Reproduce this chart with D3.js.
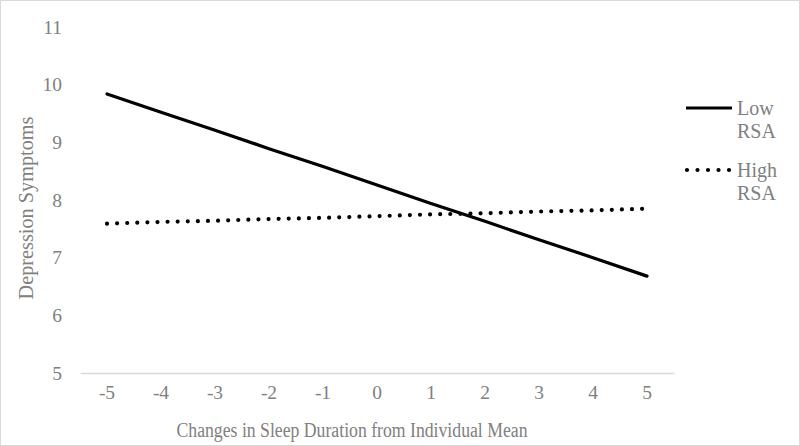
<!DOCTYPE html>
<html><head><meta charset="utf-8">
<script src="https://cdn.jsdelivr.net/npm/d3@7"></script>
<style>body{margin:0;background:#fff}svg{display:block}</style>
</head><body><svg id="c" width="800" height="446"></svg>
<script>
const categories = ["-5","-4","-3","-2","-1","0","1","2","3","4","5"];
const lowRSA  = [9.84, 9.52, 9.21, 8.89, 8.58, 8.26, 7.94, 7.63, 7.31, 7.00, 6.68];
const highRSA = [7.59, 7.62, 7.64, 7.67, 7.69, 7.72, 7.75, 7.77, 7.80, 7.82, 7.85];
const yTicks = [5, 6, 7, 8, 9, 10, 11];
const seriesNames = [["Low", "RSA"], ["High", "RSA"]];

const svg = d3.select("#c");
const font = "'Liberation Serif', serif";
const grey = "#808080";
svg.append("rect").attr("x",0.5).attr("y",0.5).attr("width",799).attr("height",445)
  .attr("fill","#fff").attr("stroke","#d9d9d9");

const x = d3.scaleBand().domain(categories).range([80, 674]);
const y = d3.scaleLinear().domain([5, 11]).range([373, 27]);

// y tick labels
const yAxis = svg.append("g").attr("transform","translate(62,0)")
  .call(d3.axisLeft(y).tickValues(yTicks).tickSize(0).tickPadding(0).tickFormat(d3.format("d")));
yAxis.select(".domain").remove();
yAxis.selectAll("text").attr("font-family",font).attr("font-size",19.5).attr("fill",grey);

// x axis
const xAxis = svg.append("g").attr("transform","translate(0,373)")
  .call(d3.axisBottom(x).tickSize(0).tickPadding(12));
xAxis.select(".domain").attr("stroke","#d9d9d9").attr("stroke-width",1.3);
xAxis.selectAll("text").attr("font-family",font).attr("font-size",19.5).attr("fill",grey);

// titles
svg.append("text").attr("x",352).attr("y",437).attr("text-anchor","middle")
  .attr("font-family",font).attr("font-size",20).attr("fill",grey)
  .attr("textLength",351).attr("lengthAdjust","spacingAndGlyphs")
  .text("Changes in Sleep Duration from Individual Mean");
svg.append("text").attr("transform","translate(33,208) rotate(-90)").attr("text-anchor","middle")
  .attr("font-family",font).attr("font-size",20).attr("fill",grey)
  .attr("textLength",183).attr("lengthAdjust","spacingAndGlyphs")
  .text("Depression Symptoms");

const line = d3.line().x((d,i)=>x(categories[i]) + x.bandwidth()/2).y(d=>y(d));
svg.append("path").datum(lowRSA).attr("d",line).attr("fill","none")
  .attr("stroke","#000").attr("stroke-width",3.2).attr("stroke-linecap","round");
svg.append("path").datum(highRSA).attr("d",line).attr("fill","none")
  .attr("stroke","#000").attr("stroke-width",4.2).attr("stroke-linecap","round")
  .attr("stroke-dasharray","0,10.1");

// legend
const lg = svg.append("g");
lg.append("line").attr("x1",686).attr("x2",732).attr("y1",108).attr("y2",108)
  .attr("stroke","#000").attr("stroke-width",3.2);
lg.append("line").attr("x1",687).attr("x2",730).attr("y1",170).attr("y2",170)
  .attr("stroke","#000").attr("stroke-width",4.2).attr("stroke-linecap","round")
  .attr("stroke-dasharray","0,10.5");
seriesNames.forEach((nm,k)=>{
  const t = lg.append("text").attr("x",737).attr("y",115 + k*62)
    .attr("font-family",font).attr("font-size",20).attr("fill",grey);
  t.append("tspan").attr("x",737).text(nm[0]);
  t.append("tspan").attr("x",737).attr("dy",23).text(nm[1]);
});
</script></body></html>
